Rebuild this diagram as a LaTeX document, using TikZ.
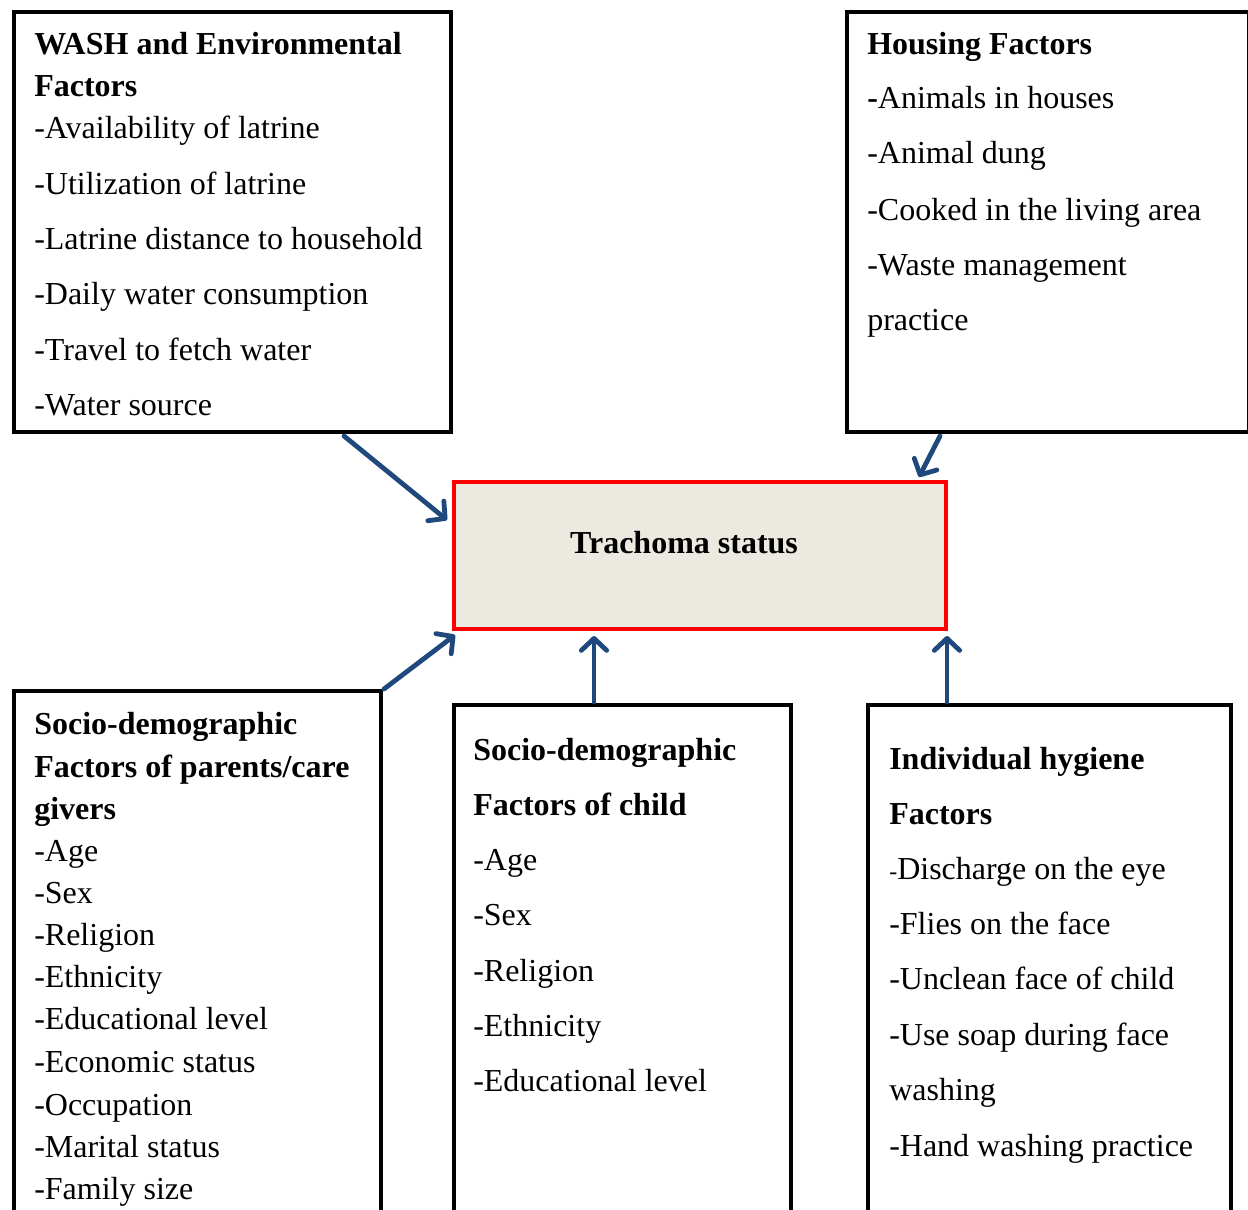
\documentclass[tikz,border=0pt]{standalone}
\usepackage{fontspec}
\setmainfont{Liberation Serif}
\usetikzlibrary{arrows.meta,calc}
\definecolor{arrowblue}{RGB}{31,73,125}
\definecolor{beige}{RGB}{236,233,224}
\begin{document}
\begin{tikzpicture}[x=0.75pt,y=-0.75pt,
  box/.style={draw=black,line width=3pt,inner sep=0pt,fill=white},
  redbox/.style={draw=red,line width=2.6pt,inner sep=0pt,fill=beige},
  txt/.style={anchor=base west,inner sep=0pt,font=\fontsize{24}{28}\selectfont},
  hd/.style={txt,font=\fontsize{24}{28}\selectfont\bfseries},
  conn/.style={draw=arrowblue,line width=3.6pt,line cap=round,line join=round,
    -{Straight Barb[length=9pt,width=19pt,line cap=round,line join=round]}}]
\useasboundingbox (0,0) rectangle (1248,1209);
\clip (0,0) rectangle (1248,1209);
% boxes
\node[box,minimum width=327.75pt,minimum height=315pt] (wash) at (232,222) {};
\node[box,minimum width=301.5pt,minimum height=315pt] (house) at (1048,222) {};
\node[redbox,minimum width=369pt,minimum height=110.25pt] (trach) at (700,555.5) {};
\node[box,minimum width=275.25pt,minimum height=456.75pt] (parent) at (197,995.5) {};
\node[box,minimum width=252.75pt,minimum height=446.25pt] (child) at (622,1002.5) {};
\node[box,minimum width=272.25pt,minimum height=446.25pt] (hyg) at (1049,1002.5) {};
\begin{scope}[shift={(-1,2)}]
% WASH text
\node[hd] (w0) at (35,53) {WASH and Environmental};
\node[hd] (w1) at (35,95) {Factors};
\node[txt] (w2) at (35,137) {-Availability of latrine};
\node[txt] (w3) at (35,192) {-Utilization of latrine};
\node[txt] (w4) at (35,247) {-Latrine distance to household};
\node[txt] (w5) at (35,302) {-Daily water consumption};
\node[txt] (w6) at (35,358) {-Travel to fetch water};
\node[txt] (w7) at (35,413) {-Water source};
% Housing text
\node[hd] (h0) at (868,53) {Housing Factors};
\node[txt] (h1) at (868,107) {\textbf{-}Animals in houses};
\node[txt] (h2) at (868,162) {-Animal dung};
\node[txt] (h3) at (868,218) {-Cooked in the living area};
\node[txt] (h4) at (868,273) {-Waste management};
\node[txt] (h5) at (868,328) {practice};
% Trachoma
\node[hd,anchor=base] (t0) at (685,551) {Trachoma status};
% parents
\node[hd] (p0) at (35,732) {Socio-demographic};
\node[hd] (p1) at (35,775) {Factors of parents/care};
\node[hd] (p2) at (35,817) {givers};
\node[txt] (p3) at (35,859) {-Age};
\node[txt] (p4) at (35,901) {-Sex};
\node[txt] (p5) at (35,943) {-Religion};
\node[txt] (p6) at (35,985) {-Ethnicity};
\node[txt] (p7) at (35,1027) {-Educational level};
\node[txt] (p8) at (35,1070) {-Economic status};
\node[txt] (p9) at (35,1113) {-Occupation};
\node[txt] (p10) at (35,1155) {-Marital status};
\node[txt] (p11) at (35,1197) {-Family size};
% child
\node[hd] (c0) at (474,758) {Socio-demographic};
\node[hd] (c1) at (474,813) {Factors of child};
\node[txt] (c2) at (474,868) {-Age};
\node[txt] (c3) at (474,923) {-Sex};
\node[txt] (c4) at (474,979) {-Religion};
\node[txt] (c5) at (474,1034) {-Ethnicity};
\node[txt] (c6) at (474,1089) {-Educational level};
% hygiene
\node[hd] (g0) at (890,767) {Individual hygiene};
\node[hd] (g1) at (890,822) {Factors};
\node[txt] (g2) at (890,877) {{\fontsize{18}{20}\selectfont -}Discharge on the eye};
\node[txt] (g3) at (890,932) {-Flies on the face};
\node[txt] (g4) at (890,987) {-Unclean face of child};
\node[txt] (g5) at (890,1043) {-Use soap during face};
\node[txt] (g6) at (890,1098) {washing};
\node[txt] (g7) at (890,1154) {-Hand washing practice};
\end{scope}
% connector end points
\coordinate (s1) at (344,436);
\coordinate (e1) at (447,520);
\coordinate (s2) at (940,436);
\coordinate (e2) at (919,477);
\coordinate (s3) at (384,689);
\coordinate (e3) at (455,635);
\coordinate (s4) at (594,702);
\coordinate (e4) at (594,636);
\coordinate (s5) at (947,702);
\coordinate (e5) at (947,636);
\draw[conn] (s1) -- (e1);
\draw[conn] (s2) -- (e2);
\draw[conn] (s3) -- (e3);
\draw[conn] (s4) -- (e4);
\draw[conn] (s5) -- (e5);
\end{tikzpicture}
\end{document}
